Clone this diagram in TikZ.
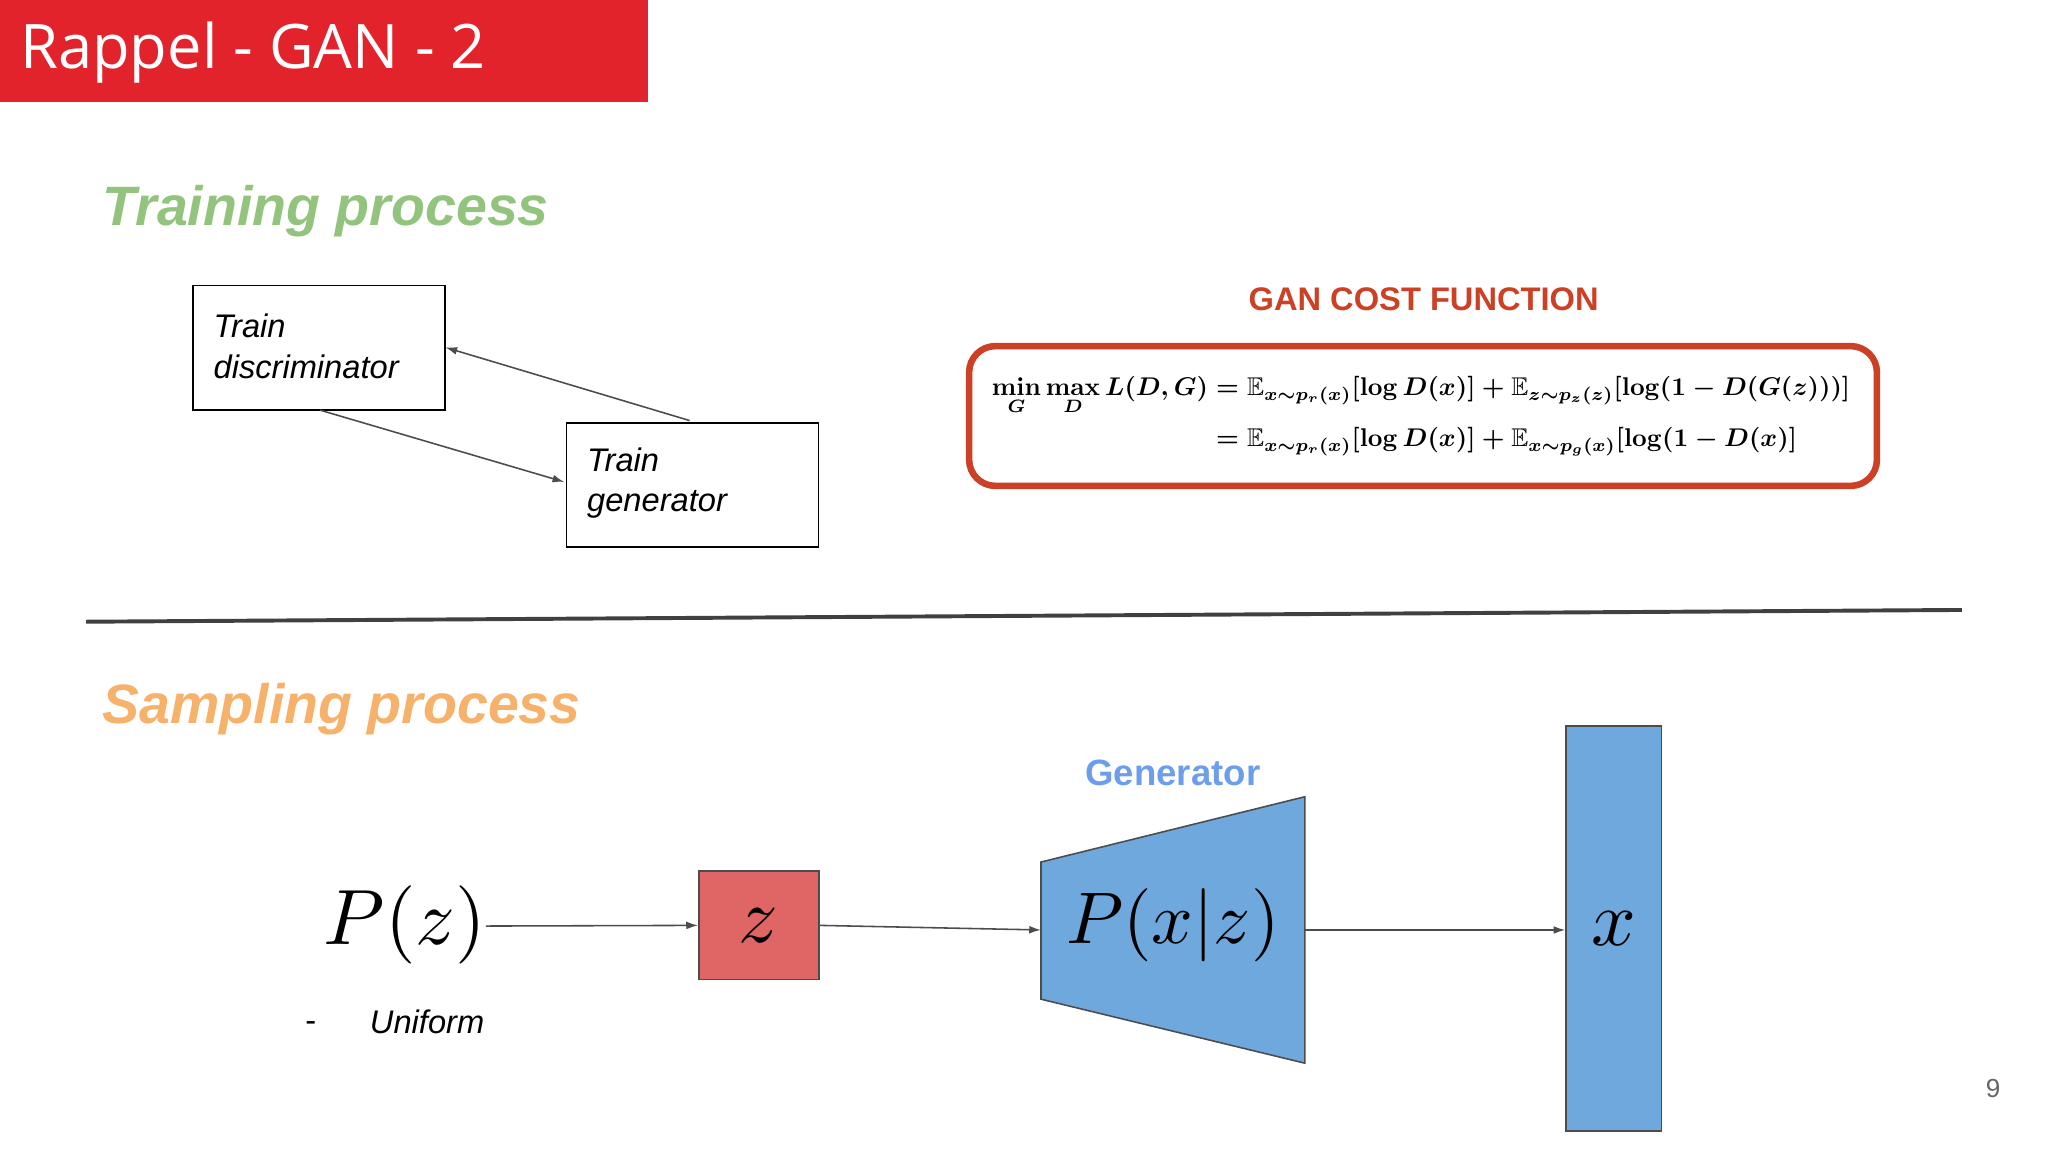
\documentclass[tikz,border=0pt]{standalone}
\usepackage{amsmath,amssymb}
\usepackage{fix-cm}
\usepackage[no-math]{fontspec}
\setmainfont{Liberation Sans}
\newfontfamily\titlefont{Open Sans}
\usetikzlibrary{arrows.meta}
\definecolor{titlered}{HTML}{E3232C}
\definecolor{tgreen}{HTML}{93C47D}
\definecolor{sorange}{HTML}{F6B26B}
\definecolor{costred}{HTML}{CC4125}
\definecolor{zred}{HTML}{E06666}
\definecolor{gblue}{HTML}{6FA8DC}
\definecolor{genblue}{HTML}{6D9EEB}
\tikzset{
  box/.style={draw=black,line width=1.3pt,minimum width=193pt,minimum height=95pt,inner sep=0pt},
  boxtext/.style={font=\fontsize{25}{31}\selectfont\itshape,align=left,anchor=west},
  arr/.style={draw=black!70,line width=1.2pt,-{Latex[length=9pt,width=6pt]}},
  heading/.style={font=\fontsize{42.5}{50}\selectfont\bfseries\itshape,anchor=west},
  bigmath/.style={inner sep=0pt},
}
\begin{document}
\begin{tikzpicture}[x=1pt,y=-1pt]
\useasboundingbox[fill=white] (0,0) rectangle (1568,882);
% title
\fill[titlered] (0,0) rectangle (496,78);
\node[anchor=west,text=white,font=\titlefont\fontsize{47}{56}\selectfont] (title) at (12,40) {Rappel - GAN - 2};
% training
\node[heading,text=tgreen] (train) at (75,162) {Training process};
\node[box,anchor=north west] (disc) at (147,218) {};
\node[boxtext] at (160,265) {Train\\discriminator};
\node[box,anchor=north west] (gen) at (433,323) {};
\node[boxtext] at (446,370) {Train\\generator};
\coordinate (g1) at (528,322);
\coordinate (d1) at (341,266);
\coordinate (d2) at (245,314);
\coordinate (g2) at (432,369);
\draw[arr] (g1) -- (d1);
\draw[arr] (d2) -- (g2);
% cost
\node[text=costred,font=\fontsize{25}{31}\selectfont\bfseries] (cost) at (1090,229) {GAN COST FUNCTION};
\draw[costred,line width=5pt,rounded corners=20pt] (742,265) rectangle (1437,372);
\node (formula) at (1088,318) {\resizebox{657pt}{!}{\mathversion{bold}$\begin{aligned}
\min_G\max_D L(D,G) &= \mathbb{E}_{x\sim p_r(x)}[\log D(x)] + \mathbb{E}_{z\sim p_z(z)}[\log(1-D(G(z)))]\\
&= \mathbb{E}_{x\sim p_r(x)}[\log D(x)] + \mathbb{E}_{x\sim p_g(x)}[\log(1-D(x)]
\end{aligned}$}};
% separator
\draw[black!75,line width=3pt] (66,476) -- (1502,467);
% sampling
\node[heading,text=sorange] (samp) at (75,543) {Sampling process};
\node[bigmath] (pz) at (310,708) {\scalebox{6}{$P(z)$}};
\node[font=\fontsize{25}{31}\selectfont] (dash) at (238,786) {-};
\node[font=\fontsize{25}{31}\selectfont\itshape] (unif) at (327,782) {Uniform};
\node[draw=black!70,fill=gblue,line width=1.2pt,minimum width=73pt,minimum height=310pt,inner sep=0pt] (x) at (1235.5,711) {\scalebox{6}{$x$}};
\node[draw=black!70,fill=zred,line width=1.2pt,minimum width=92pt,minimum height=83pt,inner sep=0pt] (z) at (581,708.5) {\scalebox{6}{$z$}};
\draw[draw=black!70,fill=gblue,line width=1.2pt] (797,660) -- (999,610) -- (999,814) -- (797,765) -- cycle;
\node[bigmath] (pxz) at (898,708) {\scalebox{5.6}{$P(x|z)$}};
\coordinate (tl) at (797,712);
\coordinate (tr) at (999,712);
\node[text=genblue,font=\fontsize{28}{34}\selectfont\bfseries] (genlab) at (898,592) {Generator};
\draw[arr] (372,709) -- (z.west);
\draw[arr] (z.east) -- (tl);
\draw[arr] (tr) -- (x.west|-tr);
\node[text=black!60,font=\fontsize{20}{24}\selectfont] (page) at (1526,833) {9};
\end{tikzpicture}
\end{document}
